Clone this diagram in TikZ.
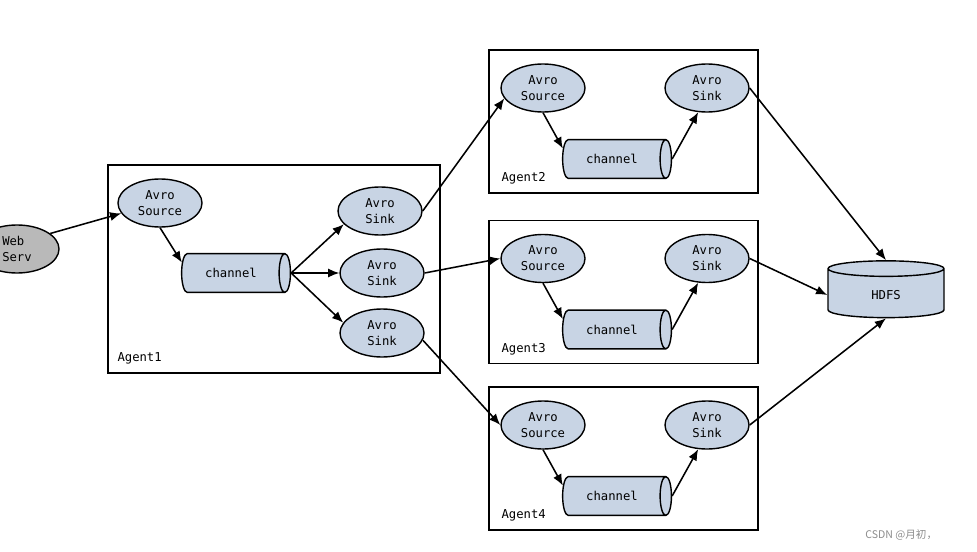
\documentclass[tikz,border=0pt]{standalone}
\usepackage{fontspec}
\setmonofont{DejaVu Sans Mono}
\newfontfamily\cjkfont{Noto Sans CJK SC}
\usetikzlibrary{arrows.meta,positioning,shapes.geometric}
\definecolor{avroblue}{RGB}{200,212,228}
\definecolor{webgray}{RGB}{185,185,185}
\newcommand*\flumefont{\ttfamily\fontsize{8.7}{11.5}\selectfont}
\tikzset{
	>={Latex[length=8pt,width=6.5pt]},
	avro/.style={
		ellipse,
		draw, line width=1pt,
		fill=avroblue,
		minimum width=2.1cm,
		minimum height=1.2cm,
		inner sep=0pt,
		align=center,
		font=\flumefont},
	web/.style={avro, fill=webgray, align=left},
	chan/.style={
		cylinder,
		draw, line width=1pt,
		fill=avroblue,
		shape aspect=0.6,
		minimum height=2.72cm,
		minimum width=0.97cm,
		font=\flumefont},
	store/.style={chan, shape border rotate=90, shape aspect=0.4,
		minimum height=1.42cm, minimum width=2.9cm},
	agentbox/.style={draw, line width=1pt, fill=white},
	agentlabel/.style={anchor=south west, inner sep=0pt, font=\flumefont},
	link/.style={draw, line width=1.1pt, ->},
}

\begin{document}
\begin{tikzpicture}[x=0.025cm, y=-0.025cm]
\useasboundingbox (0,0) rectangle (977,551);
\clip (0,0) rectangle (977,551);

% first agent
\node[agentbox, minimum width=8.3cm, minimum height=5.2cm] (agent1) at (274,269) {};
\node[agentlabel] (lab1) at ([shift={(10,-9)}]agent1.south west) {Agent1};
\node[web] (web) at (17,249) {Web\\Serv};
\node[avro] (src1) at (160,203) {Avro\\Source};
\node[chan] (chan1) at (231,273) {channel};
\node[avro] (sinka) at (380,211) {Avro\\Sink};
\node[avro] (sinkb) at (382,273) {Avro\\Sink};
\node[avro] (sinkc) at (382,333) {Avro\\Sink};

% the three agents on the right
\foreach \i/\y in {2/121.5,3/292,4/458.5}{
	\node[agentbox, minimum width=6.725cm, minimum height=3.575cm] (agent\i) at (623.5,\y) {};
	\node[agentlabel] (lab\i) at ([shift={(13,-9)}]agent\i.south west) {Agent\i};
	\node[avro] (src\i) at (543,\y-33.5) {Avro\\Source};
	\node[chan] (chan\i) at (612,\y+37.5) {channel};
	\node[avro] (sink\i) at (707,\y-33.5) {Avro\\Sink};
	\draw[link] (src\i.south) -- (chan\i.168);
	\draw[link] (chan\i.east) -- (sink\i.250);
}

\node[store] (hdfs) at (886,295) {HDFS};

\draw[link] (web.25) -- (src1.195);
\draw[link] (src1.south) -- (chan1.168);
\foreach \s/\a in {sinka/200,sinkb/180,sinkc/165}
	\draw[link] (chan1.east) -- (\s.\a);

\draw[link] (sinka.east) -- (src2.195);
\draw[link] (sinkb.east) -- (src3.west);
\draw[link] (sinkc.-10) -- (src4.west);

\draw[link] (sink2.east) -- (hdfs.north);
\draw[link] (sink3.east) -- (hdfs.west);
\draw[link] (sink4.east) -- (hdfs.south);

\node[anchor=east, text=black!45, font=\cjkfont\fontsize{7.5}{9}\selectfont] (mark) at (942,535) {CSDN @月初，};
\end{tikzpicture}
\end{document}
